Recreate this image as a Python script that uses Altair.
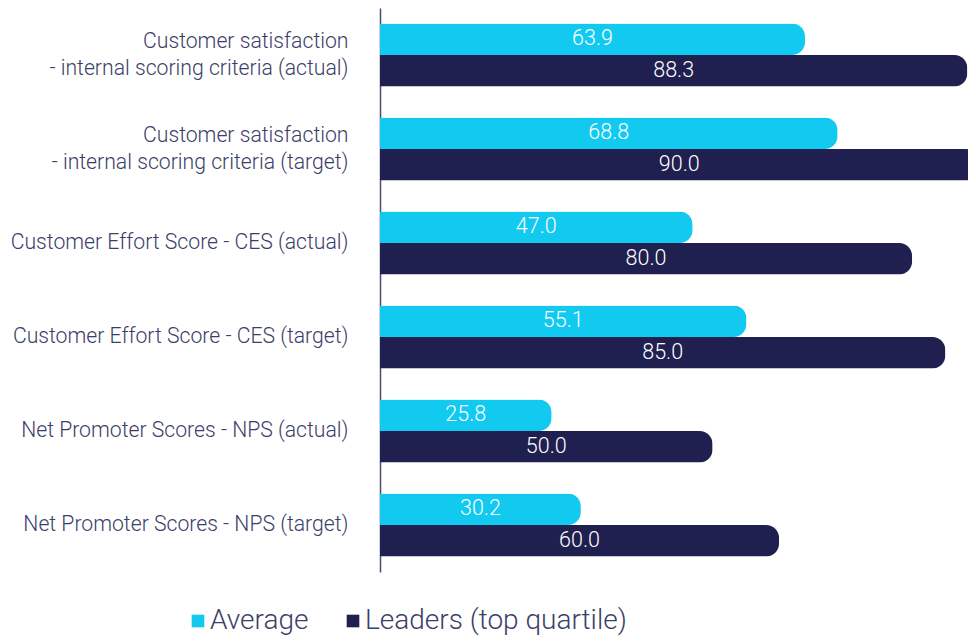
import altair as alt
import pandas as pd

categories = [
    "Customer satisfaction\u00a0\n- internal scoring criteria (actual)",
    "Customer satisfaction\u00a0\n- internal scoring criteria (target)",
    "Customer Effort Score - CES (actual)",
    "Customer Effort Score - CES (target)",
    "Net Promoter Scores - NPS (actual)",
    "Net Promoter Scores - NPS (target)",
]
series = ["Average", "Leaders (top quartile)"]
average = [63.9, 68.8, 47.0, 55.1, 25.8, 30.2]
leaders = [88.3, 90.0, 80.0, 85.0, 50.0, 60.0]
colors = ["#12C9F0", "#1F1F50"]

rows = []
for c, a, l in zip(categories, average, leaders):
    rows.append({"cat": c, "series": series[0], "value": a, "mid": a / 2})
    rows.append({"cat": c, "series": series[1], "value": l, "mid": l / 2})
df = pd.DataFrame(rows)

FONT = "Roboto"
LABEL_COLOR = "#3B3E68"

y_enc = alt.Y(
    "cat:N",
    sort=categories,
    scale=alt.Scale(paddingInner=0.33, paddingOuter=0.165),
    axis=alt.Axis(
        title=None,
        labelExpr="split(datum.label, '\\n')",
        labelFontSize=21.2,
        labelFont=FONT,
        labelFontWeight=300,
        labelColor=LABEL_COLOR,
        labelLineHeight=27,
        labelPadding=32,
        labelLimit=400,
        labelOffset={"condition": {"test": "indexof(datum.label, '\\n') >= 0", "value": -13.5}, "value": 0},
        ticks=False,
        domainColor="#4A4C70",
        domainWidth=1.5,
        grid=False,
    ),
)
yoff = alt.YOffset("series:N", sort=series, scale=alt.Scale(paddingInner=0, paddingOuter=0))
x_scale = alt.Scale(domain=[0, 88.4], nice=False, zero=True)

base = alt.Chart(df).encode(y=y_enc, yOffset=yoff)

bars = base.mark_bar(cornerRadiusEnd=13).encode(
    x=alt.X("value:Q", scale=x_scale, axis=None),
    color=alt.Color(
        "series:N",
        sort=series,
        scale=alt.Scale(domain=series, range=colors),
        legend=alt.Legend(
            title=None,
            orient="none",
            legendX=-196,
            legendY=599,
            direction="horizontal",
            symbolType="square",
            symbolSize=160,
            symbolStrokeWidth=0,
            symbolOpacity=1,
            labelFontSize=28,
            labelFont=FONT,
            labelFontWeight=300,
            labelColor=LABEL_COLOR,
            labelOffset={"expr": "-2"},
            columnPadding=30,
            labelLimit=500,
        ),
    ),
)

texts = base.mark_text(
    color="white", fontSize=21.5, font=FONT, fontWeight=300, baseline="middle", align="center"
).encode(
    x=alt.X("mid:Q", scale=x_scale, axis=None),
    text=alt.Text("value:Q", format=".1f"),
)

chart = (
    alt.layer(bars, texts)
    .properties(
        width=588,
        height=564,
        autosize=alt.AutoSizeParams(type="none"),
        padding={"left": 372, "top": 0, "right": 0, "bottom": 64},
    )
    .configure_view(stroke=None)
)

chart.save("out.html", embed_options={"renderer": "svg", "actions": False})
